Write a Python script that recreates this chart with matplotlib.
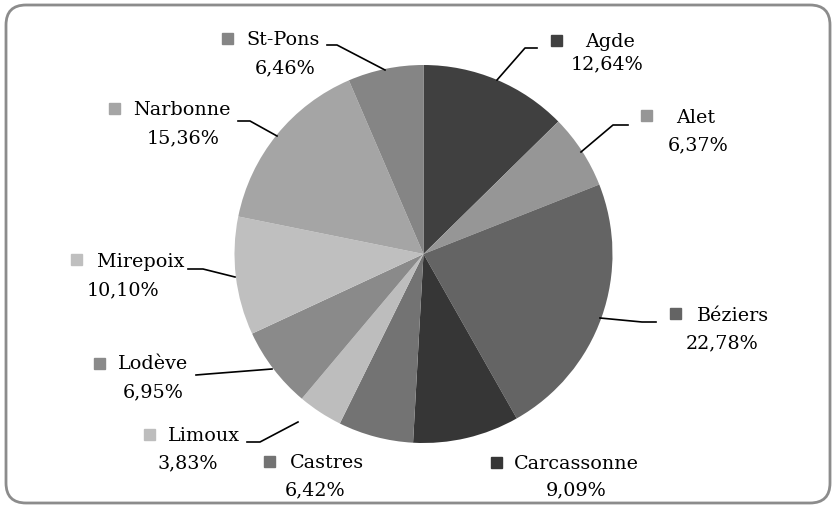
import matplotlib
matplotlib.use('Agg')
import matplotlib.pyplot as plt
from matplotlib.patches import FancyBboxPatch, Rectangle

# data (diocèses, share in %)
names = ['Agde', 'Alet', 'Béziers', 'Carcassonne', 'Castres',
         'Limoux', 'Lodève', 'Mirepoix', 'Narbonne', 'St-Pons']
values = [12.64, 6.37, 22.78, 9.09, 6.42, 3.83, 6.95, 10.10, 15.36, 6.46]
pct_labels = ['12,64%', '6,37%', '22,78%', '9,09%', '6,42%',
              '3,83%', '6,95%', '10,10%', '15,36%', '6,46%']
colors = ['#404040', '#969696', '#646464', '#363636', '#737373',
          '#bdbdbd', '#8a8a8a', '#bfbfbf', '#a5a5a5', '#858585']

W, H = 833, 507

def Y(y):
    return H - y

# label layout in pixel coords: square centre, name left, name y, pct centre, pct y
label_pos = {
    'Agde':        (557, 40, 585, 42, 607, 64),
    'Alet':        (647, 115, 676, 118, 698, 145),
    'Béziers':     (676, 313, 697, 316, 722, 343),
    'Carcassonne': (497, 462, 514, 464, 576, 490),
    'Castres':     (270, 461, 290, 463, 315, 490),
    'Limoux':      (150, 434, 168, 436, 188, 463),
    'Lodève':      (100, 363, 118, 364, 153, 392),
    'Mirepoix':    (77, 259, 97, 262, 123, 290),
    'Narbonne':    (115, 108, 133, 110, 183, 138),
    'St-Pons':     (228, 38, 246, 40, 285, 68),
}
leaders = {
    'Agde':     [(497, 80), (525, 48), (537, 48)],
    'Alet':     [(581, 152), (613, 125), (628, 125)],
    'Béziers':  [(600, 318), (642, 322), (656, 322)],
    'Lodève':   [(272, 369), (208, 374), (196, 375)],
    'Limoux':   [(298, 422), (260, 442), (247, 442)],
    'Mirepoix': [(235, 277), (203, 269), (188, 269)],
    'Narbonne': [(277, 136), (250, 121), (238, 121)],
    'St-Pons':  [(385, 70), (337, 45), (327, 45)],
}

fig = plt.figure(figsize=(W / 100, H / 100), dpi=100)
ax = fig.add_axes([0, 0, 1, 1])

ax.pie(values, colors=colors, startangle=90, counterclock=False,
       center=(423.5, Y(254)), radius=189,
       wedgeprops={'linewidth': 0})

ax.set_xlim(0, W)
ax.set_ylim(0, H)
ax.set_aspect('equal')
ax.axis('off')

# rounded border
ax.add_patch(FancyBboxPatch((6, Y(503)), 824, 498,
                            boxstyle='round,pad=0,rounding_size=20',
                            fill=False, edgecolor='#8c8c8c', linewidth=2))

font = dict(family='DejaVu Serif', fontsize=13.8, color='black')
for name, pct, col in zip(names, pct_labels, colors):
    sx, sy, nx, ny, px, py = label_pos[name]
    ax.add_patch(Rectangle((sx - 5.5, Y(sy) - 5.5), 11, 11, color=col))
    ax.text(nx, Y(ny), name, ha='left', va='center', **font)
    ax.text(px, Y(py), pct, ha='center', va='center', **font)
    if name in leaders:
        pts = leaders[name]
        ax.plot([p[0] for p in pts], [Y(p[1]) for p in pts],
                color='black', linewidth=1.2)

plt.savefig('out.png', dpi=100)
